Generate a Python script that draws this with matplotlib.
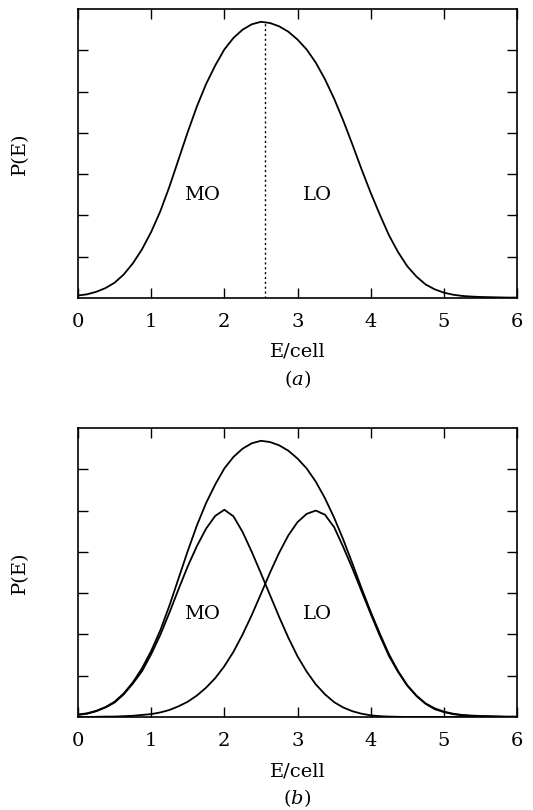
import matplotlib
matplotlib.use("Agg")
import matplotlib.pyplot as plt

E = [0.0, 0.125, 0.25, 0.375, 0.5, 0.625, 0.75, 0.875,
     1.0, 1.125, 1.25, 1.375, 1.5, 1.625, 1.75, 1.875,
     2.0, 2.125, 2.25, 2.375, 2.5, 2.625, 2.75, 2.875,
     3.0, 3.125, 3.25, 3.375, 3.5, 3.625, 3.75, 3.875,
     4.0, 4.125, 4.25, 4.375, 4.5, 4.625, 4.75, 4.875,
     5.0, 5.125, 5.25, 5.375, 5.5, 5.625, 5.75, 5.875, 6.0]

# total distribution P(E) (same curve in panels a and b)
p_total = [0.06, 0.09, 0.15, 0.24, 0.37, 0.57, 0.84, 1.18,
           1.60, 2.10, 2.70, 3.36, 4.02, 4.64, 5.18, 5.63,
           6.02, 6.30, 6.50, 6.63, 6.69, 6.66, 6.58, 6.45,
           6.26, 6.02, 5.70, 5.30, 4.83, 4.30, 3.72, 3.12,
           2.55, 2.02, 1.52, 1.11, 0.77, 0.52, 0.33, 0.21,
           0.13, 0.08, 0.05, 0.035, 0.025, 0.02, 0.015, 0.01, 0.01]
# MO component, panel (b)
p_mo = [0.05, 0.08, 0.14, 0.23, 0.35, 0.55, 0.81, 1.11,
        1.52, 1.99, 2.53, 3.10, 3.65, 4.14, 4.56, 4.87,
        5.02, 4.86, 4.48, 4.00, 3.48, 2.95, 2.42, 1.92,
        1.47, 1.10, 0.79, 0.55, 0.36, 0.23, 0.14, 0.08,
        0.04, 0.02, 0.01, 0.005, 0.0, 0.0, 0.0, 0.0,
        0.0, 0.0, 0.0, 0.0, 0.0, 0.0, 0.0, 0.0, 0.0]
# LO component, panel (b)
p_lo = [0.0, 0.0, 0.005, 0.01, 0.01, 0.02, 0.03, 0.05,
        0.07, 0.11, 0.17, 0.26, 0.37, 0.52, 0.71, 0.94,
        1.23, 1.58, 2.00, 2.47, 2.98, 3.50, 3.98, 4.40,
        4.72, 4.92, 5.0, 4.90, 4.60, 4.12, 3.60, 3.05,
        2.5, 1.97, 1.48, 1.09, 0.76, 0.51, 0.32, 0.19,
        0.12, 0.07, 0.04, 0.025, 0.015, 0.01, 0.005, 0.0, 0.0]

E_split = 2.55      # MO/LO boundary (dotted line), panel (a)
P_split = 6.66
xticks = [0, 1, 2, 3, 4, 5, 6]

plt.rcParams["font.family"] = ["DejaVu Serif"]
plt.rcParams["mathtext.fontset"] = "dejavuserif"

fig = plt.figure(figsize=(5.33, 8.10), dpi=100)
W, H = 533.0, 810.0
ax_a = fig.add_axes([78 / W, 1 - 298 / H, 439 / W, 289 / H])
ax_b = fig.add_axes([78 / W, 1 - 717 / H, 439 / W, 289 / H])

lw = 1.3
ax_a.plot(E, p_total, color="black", lw=lw)
ax_a.plot([E_split, E_split], [0, P_split], color="black", lw=1.0, ls=(0, (1.5, 2)))
ax_b.plot(E, p_total, color="black", lw=lw)
ax_b.plot(E, p_mo, color="black", lw=lw)
ax_b.plot(E, p_lo, color="black", lw=lw)

for ax, tag in [(ax_a, "$(a)$"), (ax_b, "$(b)$")]:
    ax.set_xlim(0, 6)
    ax.set_ylim(0, 7)
    ax.set_xticks(xticks)
    ax.set_xticklabels([str(t) for t in xticks])
    ax.set_yticks([1, 2, 3, 4, 5, 6])
    ax.set_yticklabels([])
    ax.tick_params(direction="in", length=7, width=1.0, top=True, right=True,
                   labelsize=14, pad=11)
    for s in ax.spines.values():
        s.set_linewidth(1.2)
    ax.text(1.69, 2.5, "MO", fontsize=14, ha="center", va="center")
    ax.text(3.28, 2.5, "LO", fontsize=14, ha="center", va="center")
    ax.text(0.5, -54 / 289, "E/cell", transform=ax.transAxes, fontsize=14,
            ha="center", va="center")
    ax.text(0.5, -81 / 289, tag, transform=ax.transAxes, fontsize=14,
            ha="center", va="center")
    ax.text(-(78 - 20) / 439, 0.5, "P(E)", transform=ax.transAxes, fontsize=14,
            rotation=90, ha="center", va="center")

fig.savefig("out.png", dpi=100)
